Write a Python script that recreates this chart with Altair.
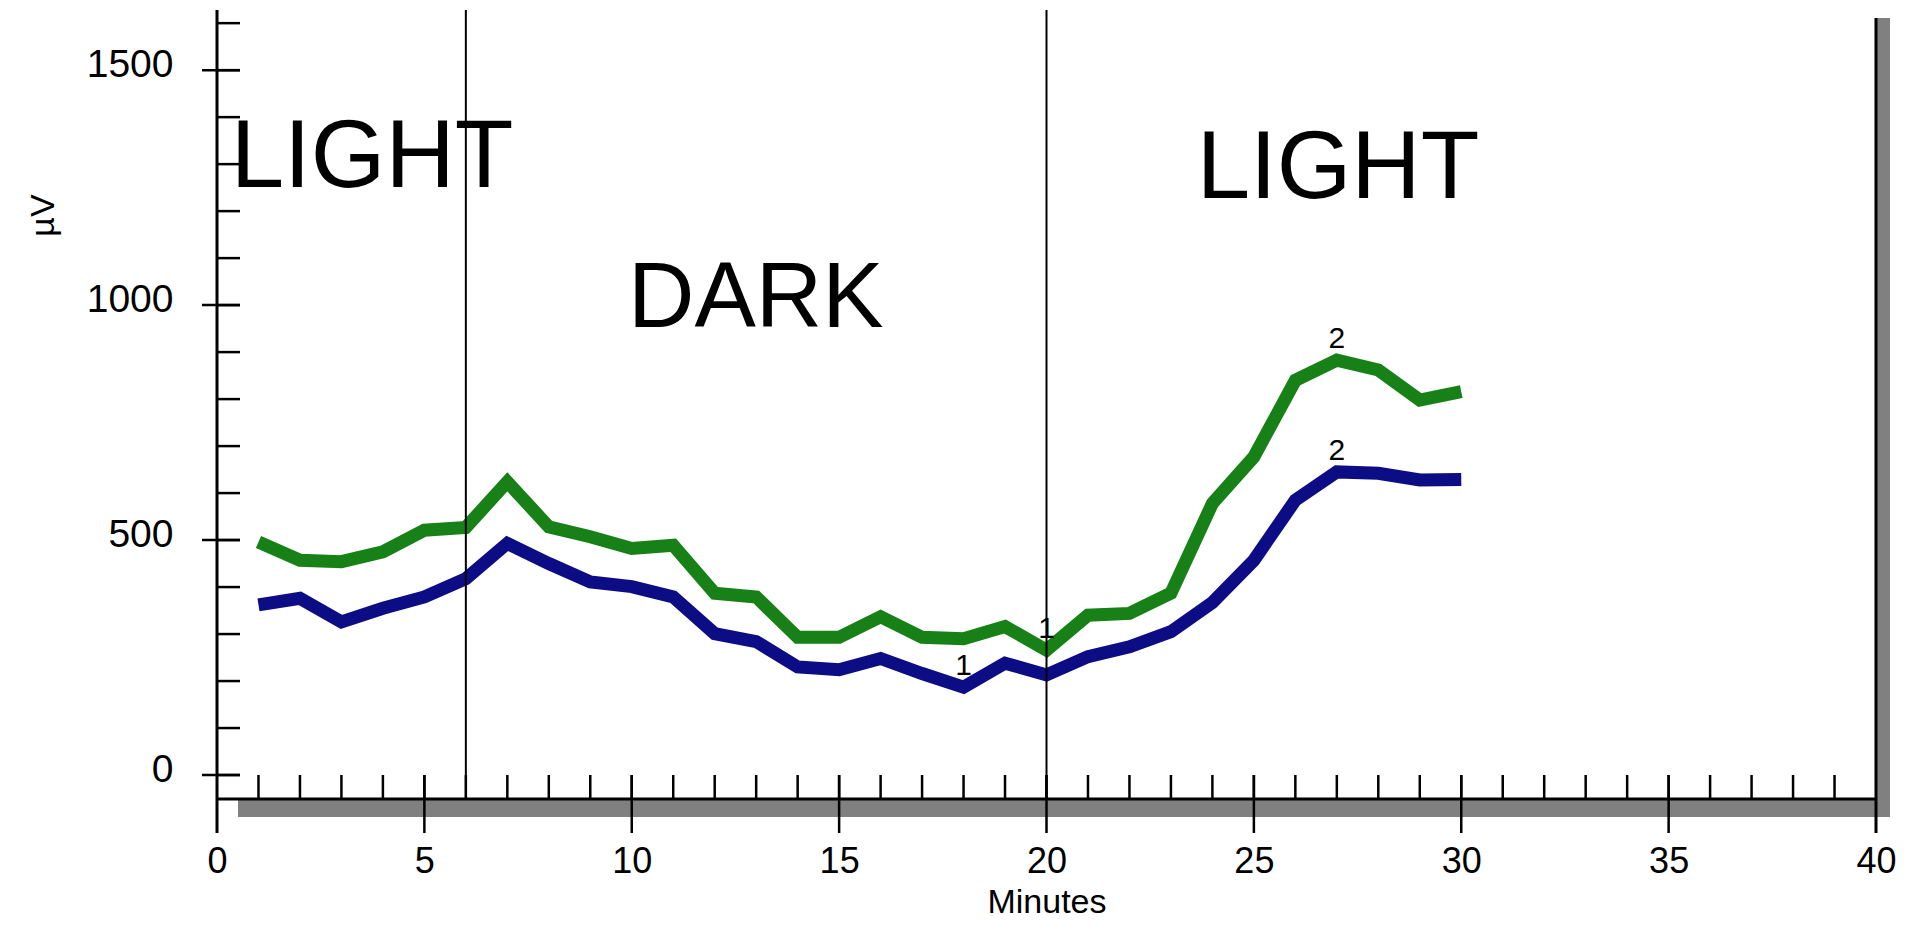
import altair as alt
import pandas as pd

# ---- data ----
minutes = list(range(1, 31))
green_uv = [496, 457, 454, 475, 521, 527, 624, 528, 507, 482,
            489, 387, 379, 293, 293, 337, 293, 290, 316, 266,
            340, 344, 387, 578, 677, 840, 883, 862, 798, 816]
navy_uv = [362, 376, 326, 355, 379, 418, 493, 450, 411, 401,
           379, 301, 284, 230, 224, 248, 216, 187, 238, 213,
           252, 273, 305, 367, 457, 585, 645, 642, 628, 629]
series_names = ["green", "navy"]
series_colors = ["#178017", "#0c0c84"]

phase_bounds = [6, 20]
light_text = ["LIGHT", "LIGHT"]
light_x = [0.33, 23.62]
light_y = [1251, 1228]
dark_text = ["DARK"]
dark_x = [9.91]
dark_y = [953]

marker_text = ["1", "1", "2", "2"]
marker_series = ["navy", "green", "green", "navy"]
marker_minute = [18, 20, 27, 27]

x_major = [0, 5, 10, 15, 20, 25, 30, 35, 40]
x_minor = list(range(1, 40))
x_major_inner = [5, 10, 15, 20, 25, 30, 35]
y_major = [0, 500, 1000, 1500]
y_minor = list(range(0, 1700, 100))

X_DOM = [0, 40]
Y_DOM = [-51, 1628]

FONT = "Liberation Sans"
W, H = 1659, 789

# ---- tables ----
df = pd.DataFrame({
    "minute": minutes * 2,
    "uv": green_uv + navy_uv,
    "series": ["green"] * len(minutes) + ["navy"] * len(minutes),
})
lookup = {"green": dict(zip(minutes, green_uv)), "navy": dict(zip(minutes, navy_uv))}
markers = pd.DataFrame({
    "minute": marker_minute,
    "uv": [lookup[s][m] for s, m in zip(marker_series, marker_minute)],
    "label": marker_text,
})
light_df = pd.DataFrame({"minute": light_x, "uv": light_y, "label": light_text})
dark_df = pd.DataFrame({"minute": dark_x, "uv": dark_y, "label": dark_text})
bounds_df = pd.DataFrame({"minute": phase_bounds})
xminor_df = pd.DataFrame({"minute": x_minor})
xmajor_df = pd.DataFrame({"minute": x_major_inner})
yminor_df = pd.DataFrame({"uv": y_minor})
ymajor_df = pd.DataFrame({"uv": y_major})
one = pd.DataFrame({"k": [0]})

xs = alt.Scale(domain=X_DOM, nice=False, zero=False)
ys = alt.Scale(domain=Y_DOM, nice=False, zero=False)

x_axis = alt.Axis(values=x_major, format="d", domain=False, ticks=False, grid=False,
                  labelPadding=45, labelFontSize=36, labelFont=FONT,
                  labelColor="black", labelFlush=False, labelOverlap=False,
                  title="Minutes", titleFont=FONT, titleFontSize=34,
                  titleFontWeight="normal", titleColor="black",
                  titleY=113, titleBaseline="alphabetic")
y_axis = alt.Axis(values=y_major, format="d", domain=False, ticks=False, grid=False,
                  labelPadding=44, labelFontSize=39, labelFont=FONT,
                  labelColor="black", labelBaseline="middle", labelOffset=-6,
                  labelFlush=False, labelOverlap=False,
                  title="µV", titleFont=FONT, titleFontSize=34,
                  titleFontWeight="normal", titleColor="black",
                  titleX=-174, titleY=205, titleAlign="center",
                  titleBaseline="middle", titleAngle=270)


def X(field="minute:Q"):
    return alt.X(field, scale=xs, axis=x_axis)


def Y(field="uv:Q"):
    return alt.Y(field, scale=ys, axis=y_axis)


# shadow of the frame
shadow_bottom = alt.Chart(one).mark_rect(color="#808080").encode(
    x=alt.value(21), x2=alt.value(1673), y=alt.value(790), y2=alt.value(807))
shadow_right = alt.Chart(one).mark_rect(color="#808080").encode(
    x=alt.value(W), x2=alt.value(1673), y=alt.value(8), y2=alt.value(807))

# frame lines
x_axis_line = alt.Chart(one).mark_rule(color="black", strokeWidth=3).encode(
    x=alt.value(0), x2=alt.value(W), y=alt.value(H))
y_axis_line = alt.Chart(one).mark_rule(color="black", strokeWidth=3).encode(
    x=alt.value(0), y=alt.value(0), y2=alt.value(823))
right_line = alt.Chart(one).mark_rule(color="black", strokeWidth=3).encode(
    x=alt.value(W), y=alt.value(8), y2=alt.value(823))

# ticks
x_minor_ticks = alt.Chart(xminor_df).mark_rule(color="black", strokeWidth=2.5).encode(
    x=X(), y=alt.value(H - 24), y2=alt.value(H))
x_major_ticks = alt.Chart(xmajor_df).mark_rule(color="black", strokeWidth=2.5).encode(
    x=X(), y=alt.value(H - 24), y2=alt.value(823))
y_minor_ticks = alt.Chart(yminor_df).mark_rule(color="black", strokeWidth=2.5).encode(
    y=Y(), x=alt.value(0), x2=alt.value(23))
y_major_ticks = alt.Chart(ymajor_df).mark_rule(color="black", strokeWidth=2.5).encode(
    y=Y(), x=alt.value(-15), x2=alt.value(23))

# phase boundaries
phase_lines = alt.Chart(bounds_df).mark_rule(color="black", strokeWidth=2).encode(
    x=X(), y=alt.value(0), y2=alt.value(H))

# data lines
lines = alt.Chart(df).mark_line(strokeWidth=13, strokeCap="butt").encode(
    x=X(), y=Y(),
    color=alt.Color("series:N", scale=alt.Scale(domain=series_names, range=series_colors),
                    legend=None),
)

marker_labels = alt.Chart(markers).mark_text(
    font=FONT, fontSize=30, color="black", align="center", baseline="alphabetic", dy=-12
).encode(x=X(), y=Y(), text="label:N")

light_labels = alt.Chart(light_df).mark_text(
    font=FONT, fontSize=96, color="black", align="left", baseline="alphabetic"
).encode(x=X(), y=Y(), text="label:N")
dark_labels = alt.Chart(dark_df).mark_text(
    font=FONT, fontSize=92, color="black", align="left", baseline="alphabetic"
).encode(x=X(), y=Y(), text="label:N")

chart = alt.layer(
    lines, shadow_bottom, shadow_right, x_axis_line, y_axis_line, right_line,
    x_minor_ticks, x_major_ticks, y_minor_ticks, y_major_ticks, phase_lines,
    light_labels, dark_labels, marker_labels,
).properties(
    width=W, height=H,
    autosize=alt.AutoSizeParams(type="none"),
    padding={"left": 209, "top": 2, "right": 26, "bottom": 121},
    background="white",
).configure_view(stroke=None)

chart.save("out.html", embed_options={"renderer": "svg", "actions": False})
